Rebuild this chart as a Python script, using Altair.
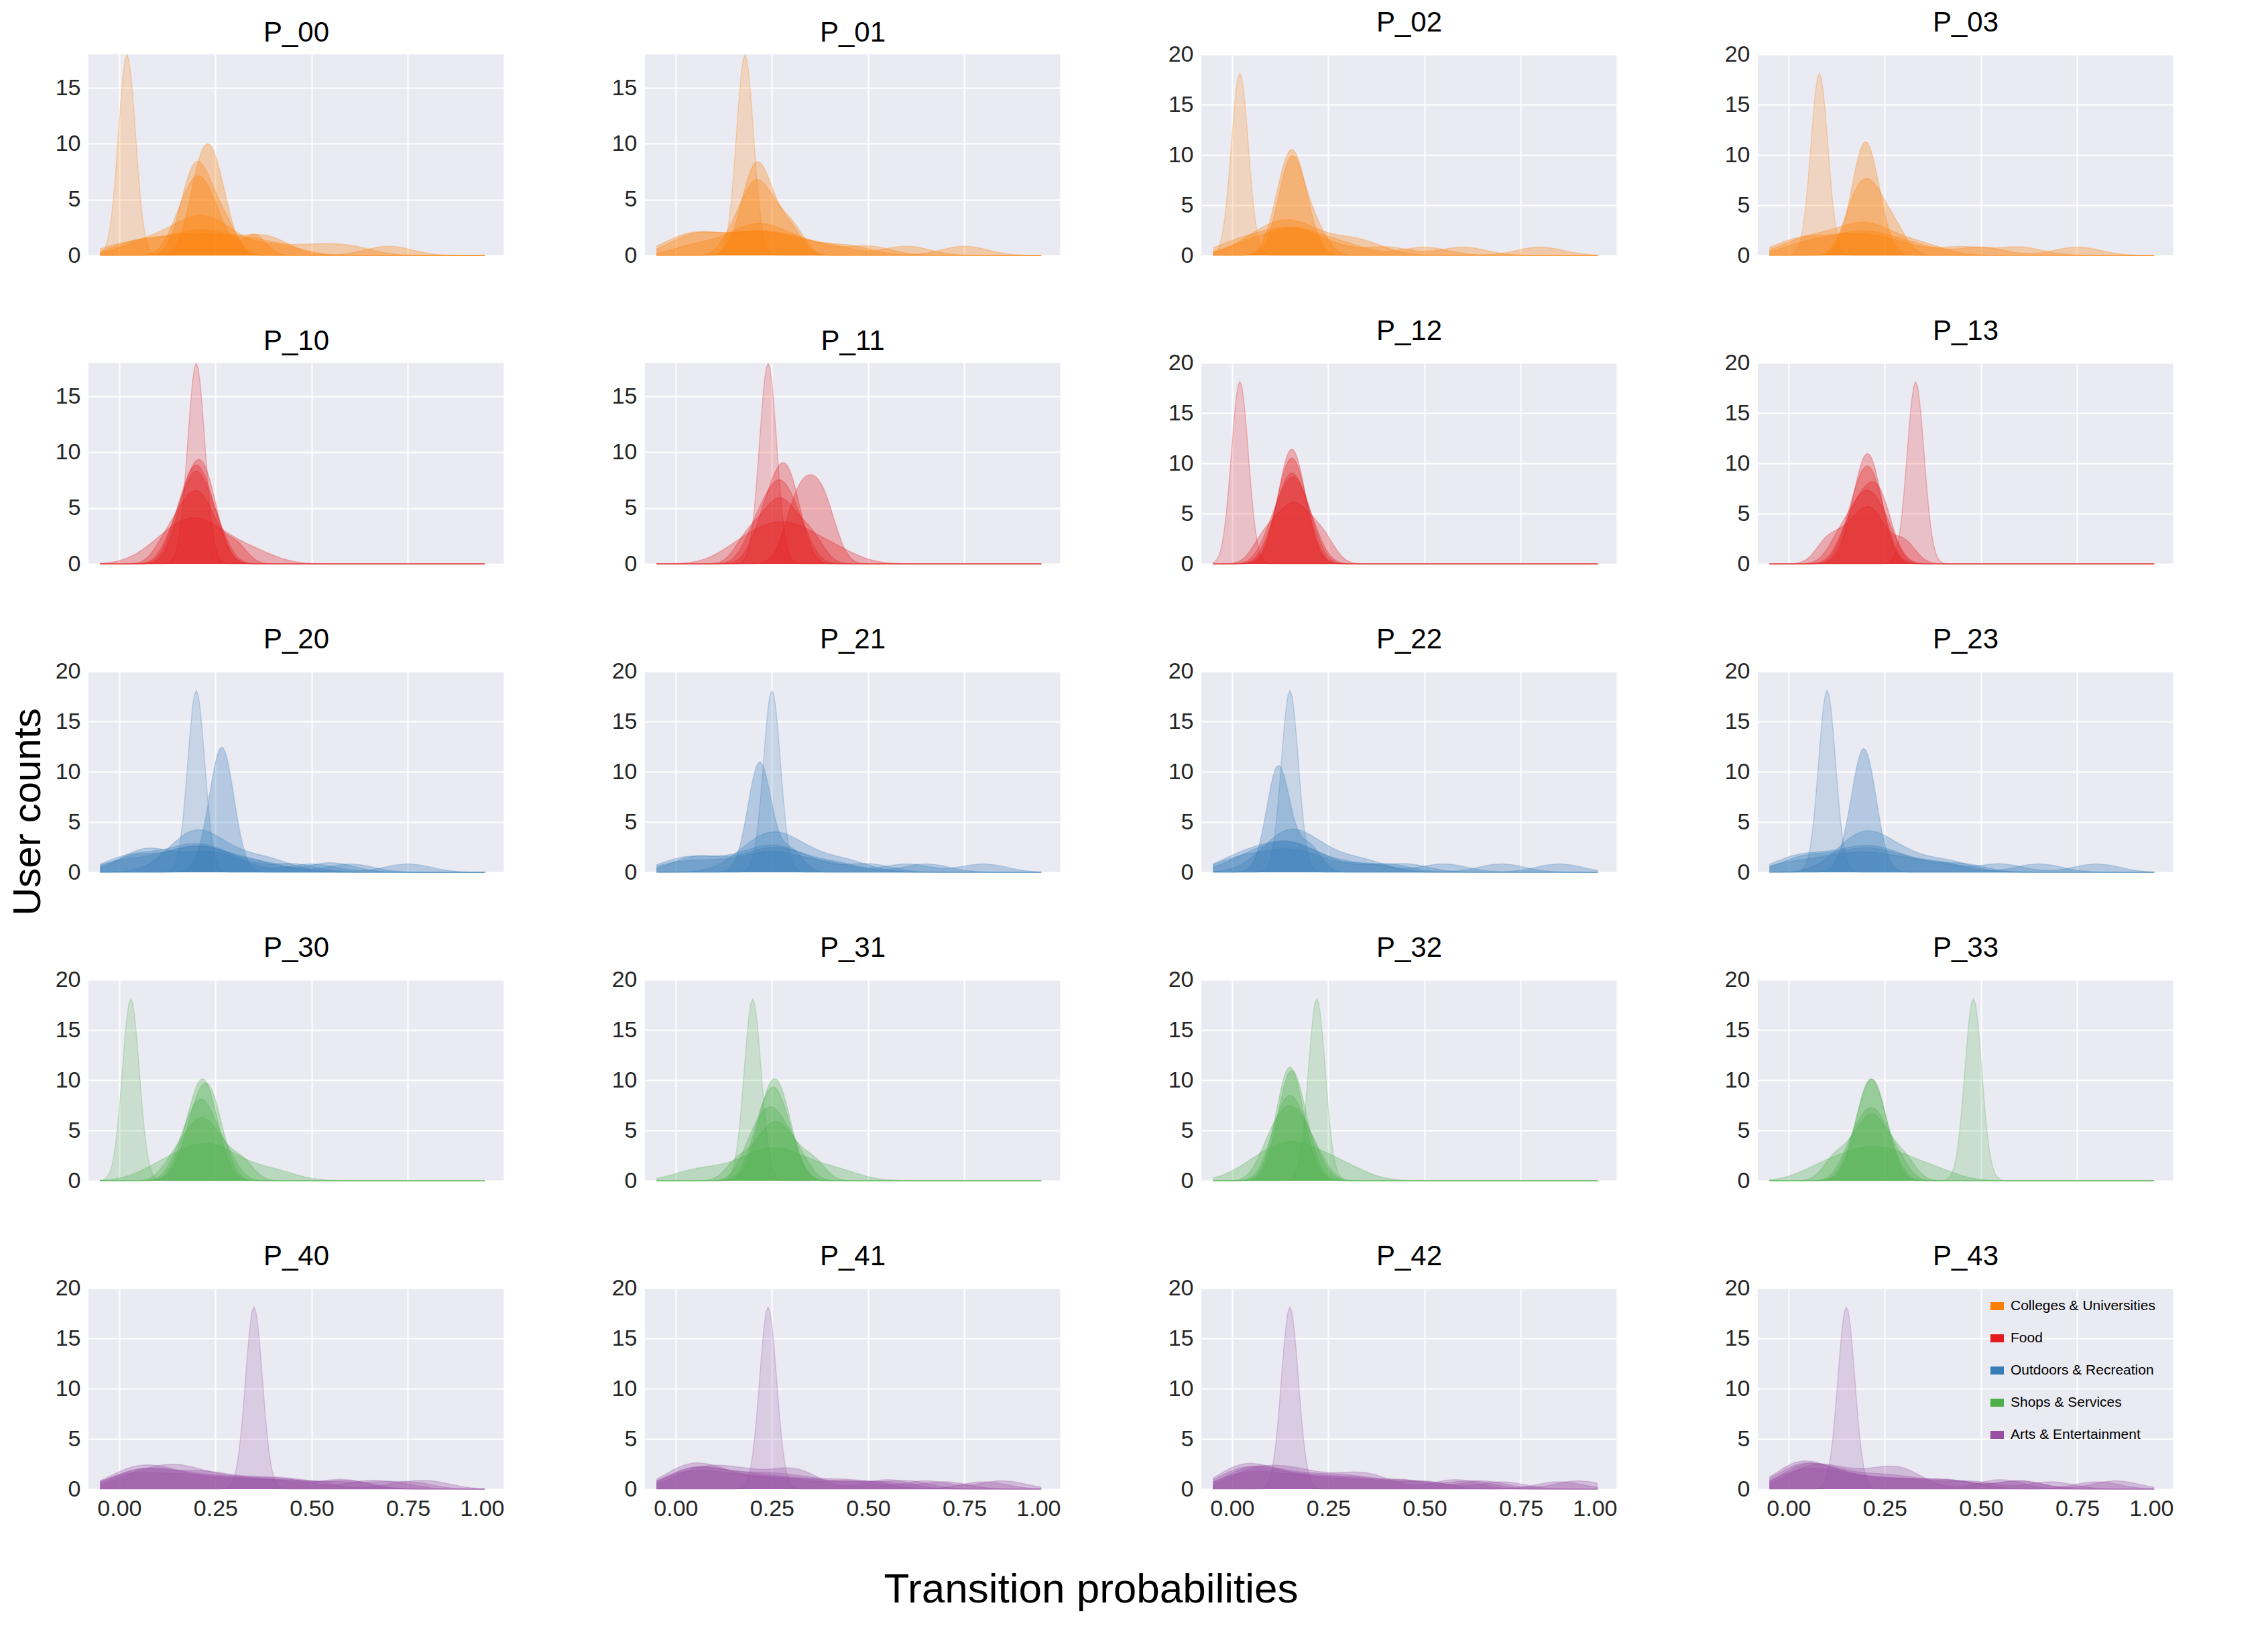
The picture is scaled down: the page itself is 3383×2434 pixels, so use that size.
import altair as alt
import pandas as pd

"""
Transition probability densities, 5 x 4 panels
"""
categories = ["Colleges & Universities", "Food", "Outdoors & Recreation",
              "Shops & Services", "Arts & Entertainment"]
colors = ["#ff7f00", "#e41a1c", "#377eb8", "#4daf4a", "#984ea3"]

# sample values per user curve (density is computed by Vega-Lite)
P_00 = [[0.02, 0.02, 0.02, 0.025, 0.015],
        [0.05, 0.12, 0.18, 0.2, 0.22, 0.25, 0.3, 0.42],
        [0.15, 0.18, 0.2, 0.21, 0.23, 0.26, 0.35],
        [0.17, 0.19, 0.2, 0.22, 0.24, 0.28],
        [0.0, 0.08, 0.15, 0.2, 0.25, 0.32, 0.38, 0.5, 0.6],
        [0.2, 0.21, 0.22, 0.24, 0.25, 0.27],
        [0.03, 0.1, 0.19, 0.21, 0.27, 0.37, 0.39, 0.7]]
P_01 = [[0.18, 0.18, 0.18, 0.185, 0.175],
        [0.0, 0.05, 0.1, 0.18, 0.22, 0.28, 0.35, 0.5],
        [0.15, 0.19, 0.2, 0.22, 0.24, 0.27, 0.31],
        [0.02, 0.06, 0.12, 0.2, 0.23, 0.3, 0.4, 0.6],
        [0.18, 0.2, 0.21, 0.23, 0.25, 0.3],
        [0.05, 0.15, 0.2, 0.22, 0.26, 0.33, 0.45, 0.75]]
P_02 = [[0.02, 0.02, 0.02, 0.022, 0.018],
        [0.12, 0.14, 0.15, 0.16, 0.17, 0.19],
        [0.05, 0.1, 0.14, 0.16, 0.2, 0.28, 0.35],
        [0.0, 0.06, 0.12, 0.15, 0.18, 0.25, 0.4, 0.6],
        [0.13, 0.15, 0.155, 0.16, 0.18, 0.22],
        [0.03, 0.1, 0.15, 0.17, 0.22, 0.3, 0.5, 0.8]]
P_03 = [[0.08, 0.08, 0.08, 0.082, 0.078],
        [0.17, 0.19, 0.2, 0.2, 0.21, 0.23],
        [0.02, 0.08, 0.15, 0.19, 0.21, 0.26, 0.35],
        [0.0, 0.05, 0.12, 0.18, 0.22, 0.3, 0.45, 0.6],
        [0.16, 0.18, 0.2, 0.22, 0.24, 0.28],
        [0.03, 0.1, 0.17, 0.2, 0.25, 0.33, 0.5, 0.75]]
P_10 = [[0.2, 0.2, 0.2, 0.205, 0.195],
        [0.14, 0.17, 0.19, 0.2, 0.21, 0.23, 0.26],
        [0.12, 0.16, 0.18, 0.2, 0.22, 0.24, 0.3],
        [0.15, 0.18, 0.19, 0.21, 0.22, 0.25],
        [0.1, 0.15, 0.18, 0.2, 0.23, 0.27, 0.35],
        [0.16, 0.18, 0.2, 0.21, 0.23, 0.24]]
P_11 = [[0.24, 0.24, 0.24, 0.245, 0.235],
        [0.2, 0.23, 0.25, 0.27, 0.28, 0.3, 0.33],
        [0.18, 0.22, 0.25, 0.27, 0.29, 0.32, 0.36],
        [0.22, 0.25, 0.27, 0.28, 0.3, 0.31],
        [0.16, 0.21, 0.25, 0.28, 0.31, 0.35, 0.42],
        [0.3, 0.32, 0.34, 0.36, 0.38, 0.4]]
P_12 = [[0.02, 0.02, 0.02, 0.021, 0.019],
        [0.12, 0.14, 0.15, 0.16, 0.17, 0.19],
        [0.1, 0.13, 0.15, 0.16, 0.18, 0.2],
        [0.13, 0.14, 0.15, 0.16, 0.17, 0.18],
        [0.08, 0.12, 0.15, 0.17, 0.2, 0.24],
        [0.11, 0.14, 0.15, 0.16, 0.18, 0.21]]
P_13 = [[0.33, 0.33, 0.33, 0.332, 0.328],
        [0.16, 0.18, 0.2, 0.21, 0.22, 0.24],
        [0.13, 0.17, 0.19, 0.21, 0.23, 0.26],
        [0.17, 0.19, 0.2, 0.21, 0.22, 0.23],
        [0.1, 0.15, 0.19, 0.21, 0.24, 0.3],
        [0.15, 0.18, 0.2, 0.22, 0.24, 0.25]]
P_20 = [[0.2, 0.2, 0.2, 0.203, 0.197],
        [0.27, 0.27, 0.27, 0.275, 0.265, 0.24],
        [0.0, 0.05, 0.12, 0.18, 0.2, 0.24, 0.3, 0.45],
        [0.02, 0.06, 0.15, 0.2, 0.22, 0.28, 0.38, 0.6],
        [0.15, 0.18, 0.2, 0.22, 0.25, 0.32, 0.4],
        [0.04, 0.07, 0.1, 0.2, 0.23, 0.3, 0.5, 0.75],
        [0.0, 0.1, 0.17, 0.21, 0.26, 0.35, 0.55]]
P_21 = [[0.25, 0.25, 0.25, 0.253, 0.247],
        [0.21, 0.22, 0.22, 0.225, 0.215, 0.3],
        [0.0, 0.06, 0.15, 0.22, 0.25, 0.28, 0.35, 0.5],
        [0.03, 0.08, 0.18, 0.24, 0.27, 0.32, 0.42, 0.65],
        [0.18, 0.22, 0.25, 0.27, 0.3, 0.36, 0.45],
        [0.0, 0.1, 0.2, 0.25, 0.3, 0.4, 0.6, 0.8]]
P_22 = [[0.15, 0.15, 0.15, 0.153, 0.147],
        [0.12, 0.12, 0.125, 0.115, 0.2],
        [0.0, 0.05, 0.1, 0.14, 0.16, 0.2, 0.3, 0.45],
        [0.02, 0.08, 0.12, 0.15, 0.18, 0.25, 0.4, 0.7],
        [0.1, 0.13, 0.15, 0.17, 0.2, 0.26, 0.35],
        [0.0, 0.06, 0.13, 0.16, 0.22, 0.35, 0.55, 0.85]]
P_23 = [[0.1, 0.1, 0.1, 0.102, 0.098],
        [0.2, 0.2, 0.205, 0.195, 0.17],
        [0.0, 0.05, 0.12, 0.18, 0.21, 0.25, 0.32, 0.45],
        [0.02, 0.07, 0.15, 0.2, 0.23, 0.3, 0.4, 0.65],
        [0.15, 0.18, 0.2, 0.22, 0.26, 0.32, 0.42],
        [0.0, 0.1, 0.16, 0.22, 0.28, 0.38, 0.55, 0.8]]
P_30 = [[0.03, 0.03, 0.03, 0.032, 0.028],
        [0.17, 0.2, 0.21, 0.22, 0.23, 0.25],
        [0.14, 0.18, 0.2, 0.22, 0.24, 0.27, 0.32],
        [0.18, 0.2, 0.22, 0.23, 0.24, 0.26],
        [0.1, 0.16, 0.2, 0.23, 0.26, 0.3, 0.4],
        [0.16, 0.19, 0.21, 0.22, 0.24, 0.28]]
P_31 = [[0.2, 0.2, 0.2, 0.203, 0.197],
        [0.21, 0.23, 0.25, 0.26, 0.27, 0.3],
        [0.16, 0.21, 0.24, 0.26, 0.28, 0.31, 0.36],
        [0.22, 0.24, 0.25, 0.26, 0.28, 0.29],
        [0.05, 0.15, 0.22, 0.25, 0.28, 0.33, 0.42],
        [0.19, 0.22, 0.24, 0.26, 0.28, 0.32]]
P_32 = [[0.22, 0.22, 0.22, 0.222, 0.218],
        [0.12, 0.14, 0.15, 0.15, 0.16, 0.18],
        [0.09, 0.12, 0.14, 0.16, 0.18, 0.21],
        [0.13, 0.14, 0.15, 0.16, 0.17, 0.19],
        [0.05, 0.1, 0.14, 0.16, 0.19, 0.24, 0.3],
        [0.11, 0.13, 0.15, 0.16, 0.18, 0.22]]
P_33 = [[0.48, 0.48, 0.48, 0.482, 0.478],
        [0.17, 0.2, 0.21, 0.22, 0.23, 0.25],
        [0.12, 0.17, 0.2, 0.22, 0.24, 0.28],
        [0.18, 0.2, 0.21, 0.22, 0.23, 0.26],
        [0.08, 0.14, 0.19, 0.22, 0.26, 0.3, 0.38],
        [0.16, 0.19, 0.21, 0.23, 0.25, 0.3]]
P_40 = [[0.35, 0.35, 0.35, 0.352, 0.348],
        [0.0, 0.05, 0.1, 0.15, 0.22, 0.3, 0.4, 0.55, 0.7],
        [0.02, 0.06, 0.12, 0.2, 0.25, 0.35, 0.45, 0.6],
        [0.0, 0.04, 0.08, 0.12, 0.18, 0.28, 0.38, 0.5, 0.75],
        [0.03, 0.1, 0.15, 0.2, 0.3, 0.42, 0.58],
        [0.0, 0.06, 0.14, 0.22, 0.32, 0.45, 0.65, 0.8]]
P_41 = [[0.24, 0.24, 0.24, 0.242, 0.238],
        [0.0, 0.04, 0.08, 0.14, 0.2, 0.28, 0.38, 0.52, 0.7],
        [0.02, 0.05, 0.1, 0.18, 0.25, 0.33, 0.45, 0.6],
        [0.0, 0.03, 0.06, 0.1, 0.16, 0.26, 0.36, 0.5, 0.8],
        [0.03, 0.08, 0.14, 0.2, 0.3, 0.32, 0.55],
        [0.0, 0.05, 0.12, 0.2, 0.3, 0.45, 0.65, 0.85]]
P_42 = [[0.15, 0.15, 0.15, 0.152, 0.148],
        [0.0, 0.03, 0.07, 0.13, 0.2, 0.28, 0.37, 0.5, 0.7],
        [0.02, 0.05, 0.1, 0.17, 0.25, 0.33, 0.45, 0.62],
        [0.0, 0.02, 0.05, 0.1, 0.16, 0.25, 0.36, 0.5, 0.85],
        [0.03, 0.08, 0.14, 0.2, 0.3, 0.37, 0.58],
        [0.0, 0.06, 0.13, 0.22, 0.32, 0.45, 0.65, 0.9]]
P_43 = [[0.15, 0.15, 0.15, 0.152, 0.148],
        [0.0, 0.03, 0.05, 0.1, 0.16, 0.25, 0.35, 0.48, 0.68],
        [0.02, 0.04, 0.08, 0.14, 0.22, 0.3, 0.42, 0.6],
        [0.0, 0.02, 0.04, 0.08, 0.14, 0.22, 0.32, 0.45, 0.8],
        [0.03, 0.07, 0.12, 0.2, 0.28, 0.3, 0.55],
        [0.0, 0.05, 0.1, 0.18, 0.3, 0.42, 0.6, 0.85]]

panels = {"P_00": P_00, "P_01": P_01, "P_02": P_02, "P_03": P_03,
          "P_10": P_10, "P_11": P_11, "P_12": P_12, "P_13": P_13,
          "P_20": P_20, "P_21": P_21, "P_22": P_22, "P_23": P_23,
          "P_30": P_30, "P_31": P_31, "P_32": P_32, "P_33": P_33,
          "P_40": P_40, "P_41": P_41, "P_42": P_42, "P_43": P_43}

rows = []
for name, curves in panels.items():
    cat = categories[int(name[2])]
    for i, samples in enumerate(curves):
        spread = max(samples) - min(samples)
        # narrow single-user spikes, compact users, spread-out users
        tier = "spike" if i == 0 else ("tight" if spread < 0.2 else "wide")
        for v in samples:
            rows.append({"panel": name, "category": cat, "curve": f"{name}_{i}",
                         "tier": tier, "value": v})
source = pd.DataFrame(rows)

color = alt.Color("category:N", title=None,
                  scale=alt.Scale(domain=categories, range=colors),
                  legend=alt.Legend(orient="none", legendX=2950, legendY=1851,
                                    symbolType="stroke", symbolStrokeWidth=12,
                                    symbolSize=400, labelFontSize=21, labelLimit=0,
                                    symbolOpacity=1, rowPadding=0))


def density_layer(tier, bw, op):
    return alt.Chart().transform_filter(alt.datum.tier == tier).transform_density(
        density="value",
        bandwidth=bw,
        groupby=["panel", "category", "curve"],
        extent=[-0.05, 0.95],
        steps=200,
    ).mark_area(opacity=op, line={"strokeWidth": 1.5, "opacity": 0.25}).encode(
        x=alt.X("value:Q", title=None,
                scale=alt.Scale(domain=[-0.08, 1.0], nice=False),
                axis=alt.Axis(values=[0, 0.25, 0.5, 0.75, 1.0], format=".2f")),
        y=alt.Y("density:Q", title=None, stack=None, axis=alt.Axis(tickCount=3)),
        color=color,
        detail="curve:N",
    )


layers = alt.layer(density_layer("wide", 0.06, 0.3), density_layer("tight", 0.03, 0.3),
                   density_layer("spike", 0.022, 0.2), data=source).properties(width=620, height=300)

grid = layers.facet(
    facet=alt.Facet("panel:N", title=None,
                    header=alt.Header(labelFontSize=42, labelPadding=8,
                                      labelFont="Liberation Sans")),
    columns=4,
    spacing={"row": 160, "column": 210},
    bounds="flush",
).resolve_scale(y="independent").resolve_axis(y="independent")

ylabel = alt.Chart(pd.DataFrame({"t": ["User counts"]})).mark_text(
    angle=270, fontSize=58, font="Liberation Sans"
).encode(x=alt.value(30), y=alt.value(1130), text="t:N").properties(
    width=40, height=2200, view=alt.ViewBackground(fill="transparent", stroke=None))

chart = alt.hconcat(ylabel, grid, spacing=10).properties(
    title=alt.TitleParams("Transition probabilities", orient="bottom", anchor="middle",
                          fontSize=62, font="Liberation Sans", fontWeight="normal", offset=60)
).configure_view(fill="#EAEAF2", stroke=None).configure_axis(
    grid=True, gridColor="white", gridWidth=2, domain=False, ticks=False,
    labelFontSize=34, labelFont="Liberation Sans", labelColor="#262626", labelPadding=12
)

chart.save("out.html", embed_options={"renderer": "svg", "actions": False})
